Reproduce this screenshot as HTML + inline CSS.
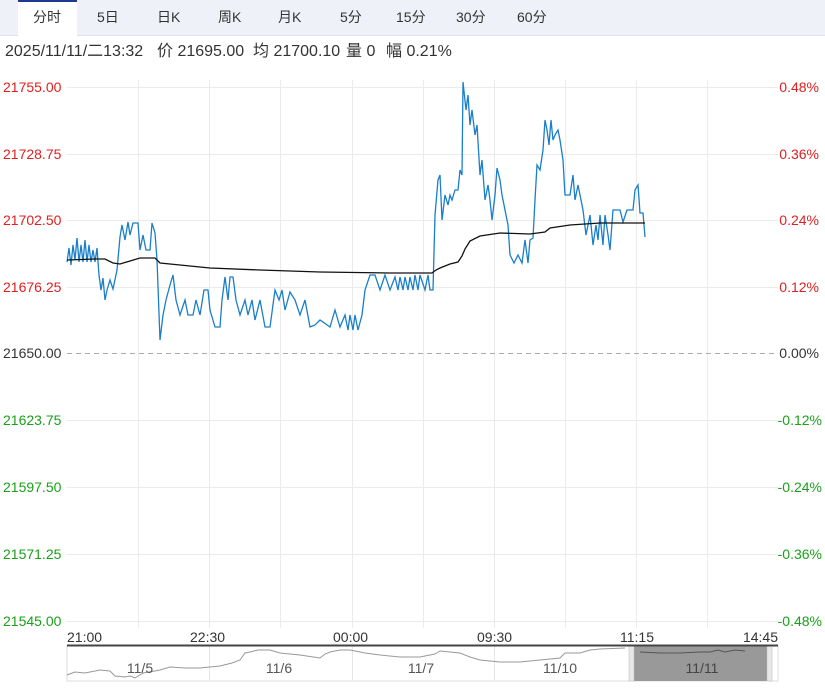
<!DOCTYPE html>
<html><head><meta charset="utf-8"><style>
body{margin:0;width:825px;height:685px;background:#fff;overflow:hidden;font-family:"Liberation Sans","Noto Sans CJK SC",sans-serif;}
svg text{font-family:"Liberation Sans","Noto Sans CJK SC",sans-serif;}
</style></head><body>
<svg width="825" height="685" xmlns="http://www.w3.org/2000/svg">
<rect x="0" y="0" width="825" height="36" fill="#eef2f8"/>
<line x1="0" y1="35.5" x2="825" y2="35.5" stroke="#dde3ee"/>
<rect x="18" y="0" width="59" height="36" fill="#fff"/>
<rect x="18" y="0" width="59" height="2" fill="#1a3a8f"/>
<g font-size="14" fill="#333">
<text x="33" y="22">分时</text><text x="97" y="22">5日</text><text x="157" y="22">日K</text>
<text x="218" y="22">周K</text><text x="278" y="22">月K</text><text x="340" y="22">5分</text>
<text x="396" y="22">15分</text><text x="456" y="22">30分</text><text x="517" y="22">60分</text>
</g>
<g font-size="16" fill="#333">
<text x="5" y="56">2025/11/11/二13:32</text>
<text x="157" y="56">价 21695.00</text>
<text x="253" y="56">均 21700.10</text>
<text x="346" y="56">量 0</text>
<text x="386" y="56">幅 0.21%</text>
</g>
<g stroke="#ebebeb" stroke-width="1">
<line x1="67" y1="87.5" x2="778" y2="87.5"/><line x1="67" y1="154.5" x2="778" y2="154.5"/>
<line x1="67" y1="220.5" x2="778" y2="220.5"/><line x1="67" y1="287.5" x2="778" y2="287.5"/>
<line x1="67" y1="420.5" x2="778" y2="420.5"/><line x1="67" y1="487.5" x2="778" y2="487.5"/>
<line x1="67" y1="554.5" x2="778" y2="554.5"/><line x1="67" y1="621.5" x2="778" y2="621.5"/>
<line x1="138.5" y1="80" x2="138.5" y2="628"/><line x1="209.5" y1="80" x2="209.5" y2="628"/>
<line x1="280.5" y1="80" x2="280.5" y2="628"/><line x1="352.5" y1="80" x2="352.5" y2="628"/>
<line x1="423.5" y1="80" x2="423.5" y2="628"/><line x1="494.5" y1="80" x2="494.5" y2="628"/>
<line x1="565.5" y1="80" x2="565.5" y2="628"/><line x1="636.5" y1="80" x2="636.5" y2="628"/>
<line x1="707.5" y1="80" x2="707.5" y2="628"/>
</g>
<line x1="67" y1="353.5" x2="778" y2="353.5" stroke="#aaa" stroke-dasharray="5,4"/>
<g font-size="14">
<text x="3" y="92" fill="#e02020">21755.00</text><text x="3" y="159" fill="#e02020">21728.75</text>
<text x="3" y="225" fill="#e02020">21702.50</text><text x="3" y="292" fill="#e02020">21676.25</text>
<text x="3" y="358" fill="#333">21650.00</text>
<text x="3" y="425" fill="#1aa01a">21623.75</text><text x="3" y="492" fill="#1aa01a">21597.50</text>
<text x="3" y="559" fill="#1aa01a">21571.25</text><text x="3" y="626" fill="#1aa01a">21545.00</text>
</g>
<g font-size="14" text-anchor="end">
<text x="819" y="92" fill="#e02020">0.48%</text><text x="819" y="159" fill="#e02020">0.36%</text>
<text x="819" y="225" fill="#e02020">0.24%</text><text x="819" y="292" fill="#e02020">0.12%</text>
<text x="819" y="358" fill="#333">0.00%</text>
<text x="822" y="425" fill="#1aa01a">-0.12%</text><text x="822" y="492" fill="#1aa01a">-0.24%</text>
<text x="822" y="559" fill="#1aa01a">-0.36%</text><text x="822" y="626" fill="#1aa01a">-0.48%</text>
</g>
<polyline fill="none" stroke="#1a7fc8" stroke-width="1.3" points="67,262 69,248 71,265 73,245 75,260 77,238 79,262 81,245 83,262 85,240 87,262 89,245 91,262 93,250 95,262 97,248 99,275 101,290 103,278 105,300 107,290 110,280 113,289 117,270 120,237 122,225 125,240 128,222 130,235 133,223 138,223 140,250 143,235 146,250 150,250 152,223 155,233 157,260 160,340 163,315 166,300 170,285 173,275 176,300 180,315 185,300 188,315 193,315 196,300 200,315 204,290 208,290 210,310 215,327 220,327 222,300 225,277 228,300 230,277 233,277 236,300 240,315 245,300 248,315 252,300 255,320 260,300 265,327 270,327 275,290 279,300 282,290 285,310 290,292 295,300 300,315 305,300 310,327 315,325 320,320 330,327 335,310 340,327 345,315 348,330 350,315 353,330 355,315 358,330 362,315 365,290 370,275 375,275 380,290 385,275 390,290 395,277 398,290 400,277 403,290 405,277 408,290 410,277 413,290 415,275 418,290 420,275 425,290 428,275 430,290 433,290 435,215 438,180 440,175 442,220 445,195 448,205 450,195 452,200 455,190 458,190 460,170 462,175 463,82 466,110 468,95 470,125 472,110 475,135 477,125 480,175 482,160 485,200 488,185 490,200 492,220 495,195 497,168 500,180 502,195 505,210 508,225 510,255 514,263 518,255 522,263 525,240 528,263 530,240 533,238 535,200 537,165 540,170 543,150 545,120 547,130 549,145 551,120 553,140 555,135 558,130 560,140 563,160 565,195 570,195 573,175 575,200 578,185 580,195 583,210 586,235 590,215 593,245 596,225 598,240 600,215 603,245 605,215 608,235 610,250 613,210 620,210 623,222 627,210 633,210 635,190 638,185 640,213 643,213 645,237"/>
<polyline fill="none" stroke="#111" stroke-width="1.3" points="67,260 95,259 105,259 113,263 120,264 130,261 140,258 155,258 160,263 180,265 210,268 260,270 320,272 390,273 432,273 436,270 440,268 450,264 458,262 462,256 465,249 470,241 480,236 500,233 530,234 545,232 550,228 570,225 600,223 645,223"/>
<g font-size="14" fill="#333">
<text x="67" y="642">21:00</text><text x="190" y="642">22:30</text><text x="333" y="642">00:00</text>
<text x="477" y="642">09:30</text><text x="620" y="642">11:15</text><text x="778" y="642" text-anchor="end">14:45</text>
</g>
<rect x="67" y="645" width="711" height="36" fill="#fff" stroke="#ddd"/>
<g stroke="#e6e6e6"><line x1="209.5" y1="646" x2="209.5" y2="681"/><line x1="352.5" y1="646" x2="352.5" y2="681"/><line x1="494.5" y1="646" x2="494.5" y2="681"/></g>
<rect x="634" y="646" width="133" height="35" fill="#999"/>
<rect x="629" y="646" width="5" height="35" fill="#e8e8e8" stroke="#bbb" stroke-width="0.5"/>
<rect x="767" y="646" width="5" height="35" fill="#e8e8e8" stroke="#bbb" stroke-width="0.5"/>
<line x1="67" y1="645.5" x2="778" y2="645.5" stroke="#444" stroke-width="2"/>
<polyline fill="none" stroke="#999" stroke-width="1" points="67,675 75,672 85,673 100,670 110,671 115,676 125,677 130,676 135,678 143,673 155,671 160,670 170,667 185,668 200,668 220,666 232,663 240,660 245,653 250,652 258,650 270,650 280,653 300,655 320,658 325,654 330,652 340,650 350,650 365,653 380,655 400,657 420,657 435,654 440,651 450,652 460,653 470,657 480,660 500,662 520,662 530,661 540,660 560,658 565,653 580,653 590,650 600,649 625,648"/>
<polyline fill="none" stroke="#555" stroke-width="1" points="640,652 660,653 680,653 700,652 710,652 718,650 725,652 735,650 745,651"/>
<g font-size="14" fill="#555" text-anchor="middle">
<text x="140" y="673">11/5</text><text x="279" y="673">11/6</text><text x="421" y="673">11/7</text>
<text x="560" y="673">11/10</text><text x="702" y="673" fill="#444">11/11</text>
</g>
</svg>
</body></html>
